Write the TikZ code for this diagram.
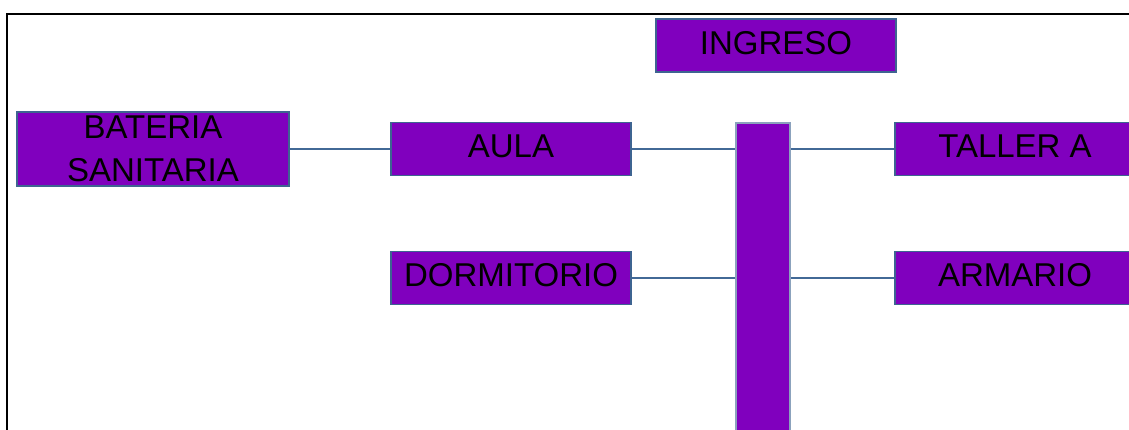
\documentclass[tikz,border=0pt]{standalone}
\usepackage{fontspec}
\setmainfont{Liberation Sans}
\usetikzlibrary{positioning}
\definecolor{morado}{RGB}{128,0,190}
\definecolor{borde}{RGB}{62,100,145}
\definecolor{enlace}{RGB}{66,105,150}
\tikzset{%
	sala/.style={draw=borde, line width=1.5pt, fill=morado, inner sep=0pt, minimum width=240pt, minimum height=53pt, text depth=6pt, font=\fontsize{33}{43}\selectfont, align=center},
	linea/.style={draw=enlace, line width=1.5pt}}

\begin{document}
\begin{tikzpicture}[x=1pt, y=1pt, node distance=129pt]
		\path[use as bounding box] (0,0) rectangle (1129,-430);
		\clip (0,0) rectangle (1129,-430);
		\draw[line width=2pt] (7,-14) rectangle (1140,-445);
		
		\node[sala] (ING) at (776,-45.5) {INGRESO};
		\node[sala, minimum width=272pt, minimum height=74pt, text depth=0pt] (BAT) at (153,-149) {BATERIA\\SANITARIA};
		\node[sala] (AULA) at (511,-149) {AULA};
		\node[sala] (DOR) [below of=AULA] {DORMITORIO};
		\node[sala, draw=borde!60, minimum width=54pt, minimum height=330pt] (PAS) at (763,-288) {};
		\node[sala] (TAL) at (1015,-149) {TALLER A};
		\node[sala] (ARM) [below of=TAL] {ARMARIO};
		
		\path[linea] (BAT.east) -- (AULA.west);
		\path[linea] (AULA.east) -- (AULA.east -| PAS.west);
		\path[linea] (DOR.east) -- (DOR.east -| PAS.west);
		\path[linea] (TAL.west -| PAS.east) -- (TAL.west);
		\path[linea] (ARM.west -| PAS.east) -- (ARM.west);
	\end{tikzpicture}
\end{document}
